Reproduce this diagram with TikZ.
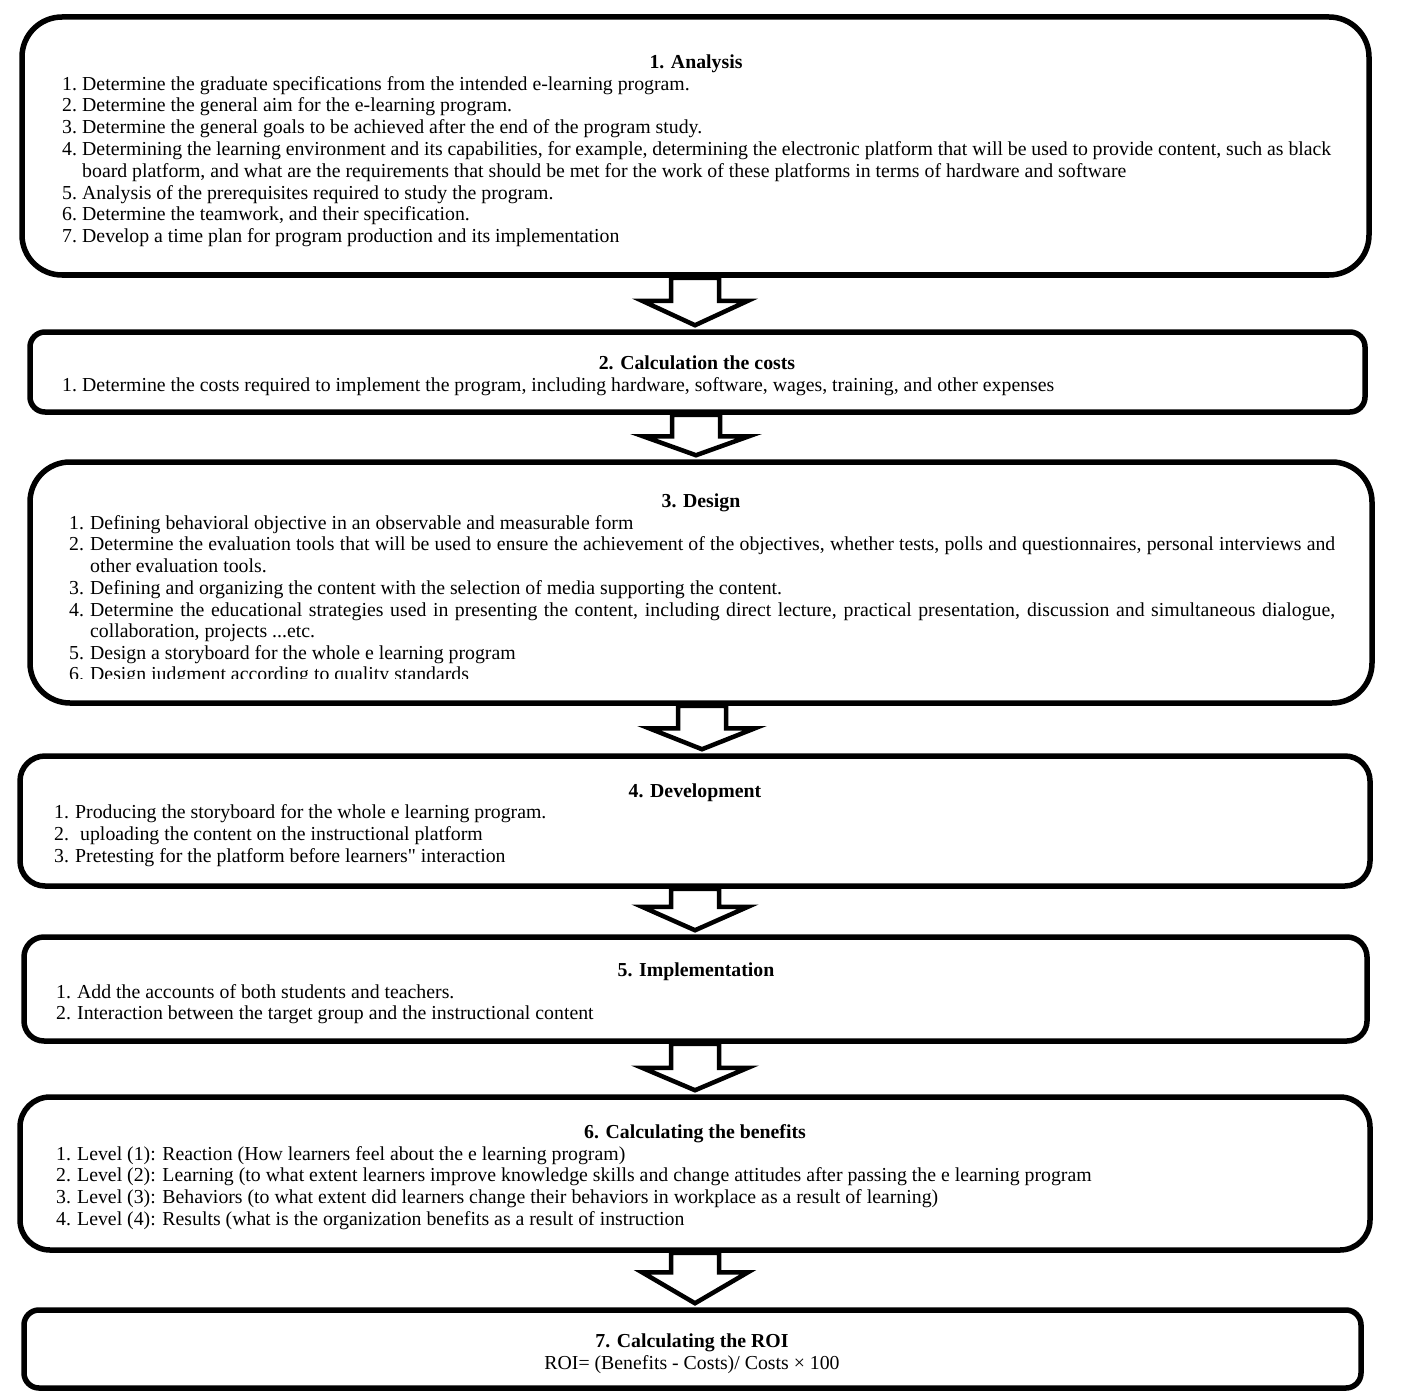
\documentclass[tikz,border=0pt]{standalone}
\usepackage{fontspec}
\setmainfont{Liberation Serif}
\usetikzlibrary{calc}
\newcommand\blockarr[4]{%
  \draw[barrow] let \p1=(#1.south -| #3), \p2=(#2.north -| #3) in
    (\x1-24pt,\y1) -- (\x1-24pt,\y2+4pt+#4pt) -- (\x1-53pt,\y2+4pt+#4pt) --
    (\x1,\y2+4pt) -- (\x1+53pt,\y2+4pt+#4pt) -- (\x1+24pt,\y2+4pt+#4pt) --
    (\x1+24pt,\y1) -- cycle;}
\newcommand\nm[2][20pt]{\makebox[#1][l]{#2}}
\begin{document}
\begin{tikzpicture}[x=1pt,y=-1pt,
  box/.style={draw, line width=5.5pt, rounded corners=#1, inner sep=0pt},
  ttl/.style={font=\fontsize{19.8}{22}\selectfont\bfseries, inner sep=0pt, anchor=mid, yshift=-5pt},
  ln/.style={font=\fontsize{19.8}{22}\selectfont, inner sep=0pt, anchor=mid west, yshift=-5pt},
  barrow/.style={draw, line width=4.5pt, fill=white, miter limit=10}]
\useasboundingbox (0,0) rectangle (1414,1399);

% boxes
\node[box=40pt, minimum width=1347pt, minimum height=258pt] (b1) at (695.5,146) {};
\node[box=15pt, minimum width=1335pt, minimum height=80pt] (b2) at (697.5,372) {};
\node[box=40pt, minimum width=1342pt, minimum height=241pt] (b3) at (701,582.5) {};
\node[box=25pt, minimum width=1350pt, minimum height=130pt] (b4) at (695,821) {};
\node[box=20pt, minimum width=1343pt, minimum height=104pt] (b5) at (695.5,989) {};
\node[box=30pt, minimum width=1350pt, minimum height=153pt] (b6) at (695,1173.5) {};
\node[box=15pt, minimum width=1337pt, minimum height=78pt] (b7) at (692.5,1349) {};

% arrow axes
\coordinate (ax1) at (695,0);
\coordinate (ax2) at (696,0);
\coordinate (ax3) at (702,0);
\coordinate (ax4) at (695,0);
\coordinate (ax5) at (695,0);
\coordinate (ax6) at (695,0);
\blockarr{b1}{b2}{ax1}{24.5}
\blockarr{b2}{b3}{ax2}{19}
\blockarr{b3}{b4}{ax3}{21}
\blockarr{b4}{b5}{ax4}{23.5}
\blockarr{b5}{b6}{ax5}{22.5}
\blockarr{b6}{b7}{ax6}{31}

% box 1
\node[ttl] (h1) at (696,61) {1. Analysis};
\node[ln] (a1) at (62,83) {\nm{1.}Determine the graduate specifications from the intended e-learning program.};
\node[ln] (a2) at (62,104) {\nm{2.}Determine the general aim for the e-learning program.};
\node[ln] (a3) at (62,126) {\nm{3.}Determine the general goals to be achieved after the end of the program study.};
\node[ln] (a4) at (62,148) {\nm{4.}\makebox[1249pt][s]{Determining the learning environment and its capabilities, for example, determining the electronic platform that will be used to provide content, such as black}};
\node[ln] (a4b) at (82,170) {board platform, and what are the requirements that should be met for the work of these platforms in terms of hardware and software};
\node[ln] (a5) at (62,192) {\nm{5.}Analysis of the prerequisites required to study the program.};
\node[ln] (a6) at (62,213) {\nm{6.}Determine the teamwork, and their specification.};
\node[ln] (a7) at (62,235) {\nm{7.}Develop a time plan for program production and its implementation};

% box 2
\node[ttl] (h2) at (697,362) {2. Calculation the costs};
\node[ln] (c1) at (62,384) {\nm{1.}Determine the costs required to implement the program, including hardware, software, wages, training, and other expenses};

% box 3
\node[ttl] (h3) at (701,500) {3. Design};
\node[ln] (d1) at (69,522) {\nm[21pt]{1.}Defining behavioral objective in an observable and measurable form};
\node[ln] (d2) at (69,543) {\nm[21pt]{2.}\makebox[1245pt][s]{Determine the evaluation tools that will be used to ensure the achievement of the objectives, whether tests, polls and questionnaires, personal interviews and}};
\node[ln] (d2b) at (90,565) {other evaluation tools.};
\node[ln] (d3) at (69,587) {\nm[21pt]{3.}Defining and organizing the content with the selection of media supporting the content.};
\node[ln] (d4) at (69,609) {\nm[21pt]{4.}\makebox[1245pt][s]{Determine the educational strategies used in presenting the content, including direct lecture, practical presentation, discussion and simultaneous dialogue,}};
\node[ln] (d4b) at (90,630) {collaboration, projects ...etc.};
\node[ln] (d5) at (69,652) {\nm[21pt]{5.}Design a storyboard for the whole e learning program};
\begin{scope}
\clip (0,600) rectangle (1414,678);
\node[ln] (d6) at (69,673) {\nm[21pt]{6.}Design judgment according to quality standards};
\end{scope}

% box 4
\node[ttl] (h4) at (695,790) {4. Development};
\node[ln] (e1) at (54,811) {\nm[21pt]{1.}Producing the storyboard for the whole e learning program.};
\node[ln] (e2) at (54,833) {\nm[26pt]{2.}uploading the content on the instructional platform};
\node[ln] (e3) at (54,855) {\nm[21pt]{3.}Pretesting for the platform before learners\textquotedbl{} interaction};

% box 5
\node[ttl] (h5) at (696,969) {5. Implementation};
\node[ln] (f1) at (56,991) {\nm[21pt]{1.}Add the accounts of both students and teachers.};
\node[ln] (f2) at (56,1012) {\nm[21pt]{2.}Interaction between the target group and the instructional content};

% box 6
\node[ttl] (h6) at (695,1131) {6. Calculating the benefits};
\node[ln] (g1) at (56,1153) {\nm[21pt]{1.}Level (1): Reaction (How learners feel about the e learning program)};
\node[ln] (g2) at (56,1174) {\nm[21pt]{2.}Level (2): Learning (to what extent learners improve knowledge skills and change attitudes after passing the e learning program};
\node[ln] (g3) at (56,1196) {\nm[21pt]{3.}Level (3): Behaviors (to what extent did learners change their behaviors in workplace as a result of learning)};
\node[ln] (g4) at (56,1218) {\nm[21pt]{4.}Level (4): Results (what is the organization benefits as a result of instruction};

% box 7
\node[ttl] (h7) at (692,1340) {7. Calculating the ROI};
\node[ln, anchor=mid] (r1) at (692,1362) {ROI= (Benefits - Costs)/ Costs × 100};
\end{tikzpicture}
\end{document}
